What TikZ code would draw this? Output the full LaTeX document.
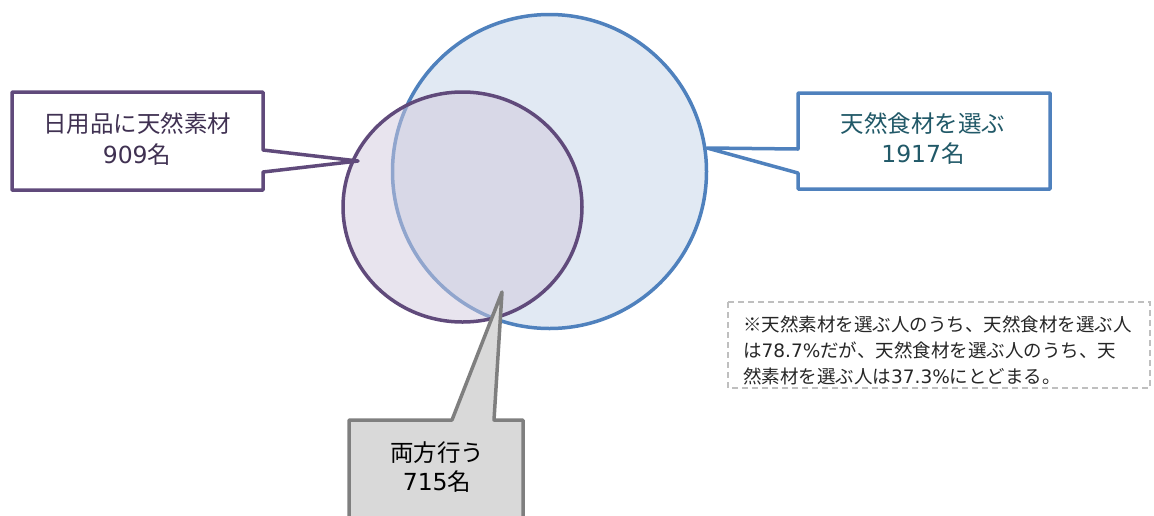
\documentclass[tikz,border=0pt]{standalone}
\usepackage{fontspec}
\setmainfont{Noto Sans CJK JP}
\newfontfamily\lat{DejaVu Sans}
\definecolor{bluec}{RGB}{79,129,189}
\definecolor{bluefill}{RGB}{225,233,243}
\definecolor{purplec}{RGB}{96,74,123}
\definecolor{purplefill}{RGB}{209,201,221}
\definecolor{purpletext}{RGB}{64,49,82}
\definecolor{tealtext}{RGB}{33,89,104}
\definecolor{greyc}{RGB}{127,127,127}
\definecolor{greyfill}{RGB}{217,217,217}
\definecolor{dashc}{RGB}{191,191,191}
\begin{document}
\begin{tikzpicture}[x=1pt,y=-1pt,
  lab/.style={inner sep=0pt, anchor=base, font=\fontsize{23.5}{30}\selectfont},
  note/.style={inner sep=0pt, anchor=base west, text={rgb,255:red,38;green,38;blue,38}, font=\fontsize{18.5}{26}\selectfont},
  callout/.style={line width=3.5pt, line join=round}
]
\useasboundingbox (0,0) rectangle (1154,515);
\clip (0,0) rectangle (1154,515);
% circles
\draw[line width=3.5pt, draw=bluec, fill=bluefill] (549.5,171.5) circle[radius=157pt];
\fill[purplefill, fill opacity=0.5] (462.5,207) ellipse[x radius=119.5pt, y radius=115pt];
\draw[line width=3.5pt, draw=purplec] (462.5,207) ellipse[x radius=119.5pt, y radius=115pt];
% purple callout
\draw[callout, draw=purplec, fill=white] (12,92) -- (263,92) -- (263,150) -- (358,161) -- (263,172) -- (263,190) -- (12,190) -- cycle;
\node[lab, text=purpletext] (p1) at (137,132) {日用品に天然素材};
\node[lab, text=purpletext] (p2) at (137,163) {{\lat 909}名};
% blue callout
\draw[callout, draw=bluec, fill=white] (798,93) -- (1050,93) -- (1050,189) -- (798,189) -- (798,173) -- (707,148) -- (798,149) -- cycle;
\node[lab, text=tealtext] (b1) at (923,132) {天然食材を選ぶ};
\node[lab, text=tealtext] (b2) at (923,162) {{\lat 1917}名};
% grey callout
\draw[callout, draw=greyc, fill=greyfill] (349,420) -- (452,420) -- (502,292) -- (494,420) -- (523,420) -- (523,540) -- (349,540) -- cycle;
\node[lab, text=black] (g1) at (437,461) {両方行う};
\node[lab, text=black] (g2) at (437,490) {{\lat 715}名};
% note
\draw[line width=1.5pt, draw=dashc, dash pattern=on 6pt off 4pt] (728,302) rectangle (1150,388);
\node[note] (n1) at (743,331) {※天然素材を選ぶ人のうち、天然食材を選ぶ人};
\node[note] (n2) at (743,357) {は{\lat 78.7\%}だが、天然食材を選ぶ人のうち、天};
\node[note] (n3) at (743,383) {然素材を選ぶ人は{\lat 37.3\%}にとどまる。};
\end{tikzpicture}
\end{document}
